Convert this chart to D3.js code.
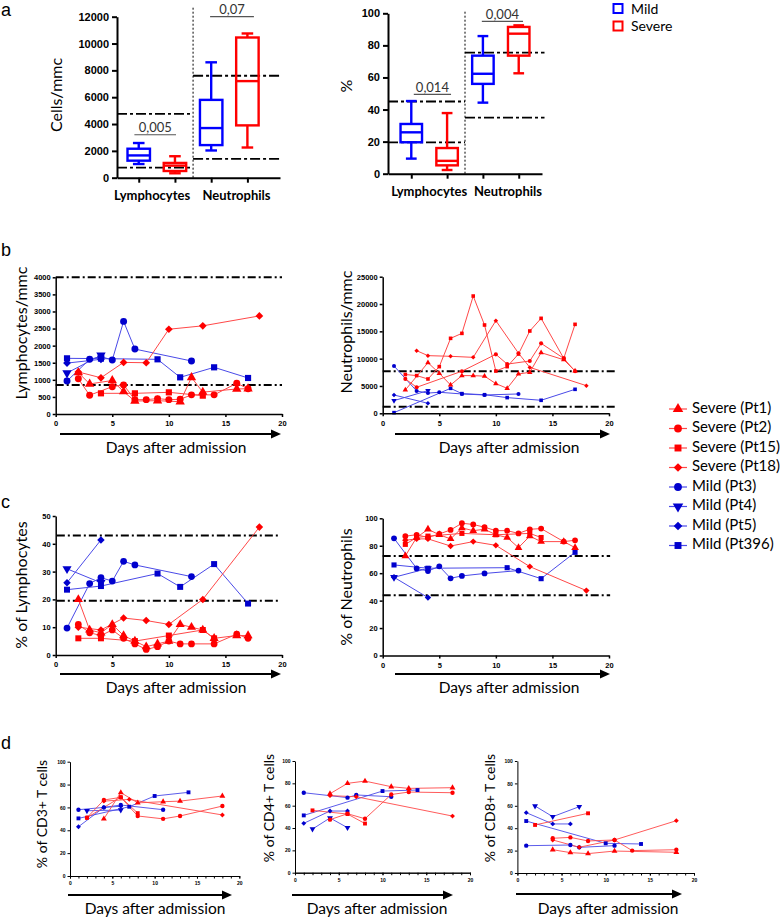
<!DOCTYPE html>
<html><head><meta charset="utf-8">
<script src="https://cdn.jsdelivr.net/npm/d3@7/dist/d3.min.js"></script>
<style>body{margin:0;background:#fff}</style>
</head><body>
<script>
// ================= DATA =================
const boxCategories = ["Lymphocytes", "Neutrophils"];
const boxGroups = ["Mild", "Severe"];
// [min, q1, median, q3, max] per category
const countMild   = [[1020, 1270, 1660, 2160, 2585], [2030, 2430, 3700, 5800, 8600]];
const countSevere = [[330, 500, 900, 1100, 1600],   [2250, 3900, 7200, 10450, 10750]];
const pctMild     = [[9.4, 19.6, 25.8, 31, 45.3],   [44.3, 56, 62.3, 73.6, 85.8]];
const pctSevere   = [[2.3, 5.2, 8, 16, 37.8],       [62.6, 73.6, 87.3, 91.5, 92.5]];
const countRefRanges = [[750, 4750], [1400, 7600]];
const pctRefRanges   = [[19.5, 45], [35, 75.5]];
const countPValues = ["0,005", "0,07"];
const pctPValues   = ["0,014", "0,004"];
const countBracketValue = [3200, 12000];
const pctBracketValue   = [49.5, 95];
const countTicks = [0, 2000, 4000, 6000, 8000, 10000, 12000];
const pctTicks   = [0, 20, 40, 60, 80, 100];

const patients = ["Severe (Pt1)", "Severe (Pt2)", "Severe (Pt15)", "Severe (Pt18)",
                  "Mild (Pt3)", "Mild (Pt4)", "Mild (Pt5)", "Mild (Pt396)"];
const patientGroup  = ["Severe", "Severe", "Severe", "Severe", "Mild", "Mild", "Mild", "Mild"];
const patientSymbol = ["triangle", "circle", "square", "diamond", "circle", "triangleDown", "diamond", "square"];
const dayTicks = [0, 5, 10, 15, 20];

// [day, value] per patient (order as in `patients`)
const lymphCount = [
  [[2,1210],[3,880],[5,980],[6,654],[7,380],[9,390],[11,360],[12,1070],[13,640],[16,732],[17,740]],
  [[2,1030],[3,550],[5,800],[6,850],[7,420],[8,420],[9,450],[10,420],[11,430],[12,560],[14,560],[16,900],[17,740]],
  [[4,605],[7,605],[10,634],[13,537]],
  [[2,1230],[4,1060],[6,1510],[8,1500],[10,2480],[13,2580],[18,2870]],
  [[1,966],[3,1600],[4,1680],[5,1580],[6,2710],[7,1900],[12,1551]],
  [[1,1200],[4,1720]],
  [[1,1490],[4,1600]],
  [[1,1629],[4,1620],[9,1600],[11,1073],[14,1366],[17,1054]]
];
const neutCount = [
  [[2,4270],[4,9270],[5,7320],[6,5180],[7,6900],[8,6890],[9,6800],[10,5430],[11,4570],[12,7200],[13,7500],[14,11100],[16,9800],[17,7740]],
  [[2,6300],[3,4760],[7,7700],[10,10790],[11,9000],[13,9570],[14,12800],[16,10060],[17,7700]],
  [[2,7100],[3,6900],[4,6280],[5,8540],[6,13720],[7,14630],[8,21460],[9,16160],[10,7740],[11,8540],[12,10850],[13,15060],[14,17380],[16,10060],[17,16280]],
  [[3,11460],[4,10550],[6,10430],[8,10240],[10,16950],[12,11000],[13,8400],[18,5060]],
  [[1,8660],[3,4085],[4,3700],[5,3850],[7,3540],[9,3350],[12,3540]],
  [[1,2320],[4,4150]],
  [[1,3350],[4,1830]],
  [[1,120],[6,4570],[7,3600],[9,3400],[11,2870],[14,2380],[17,4390]]
];
const lymphPct = [
  [[2,20],[3,9],[4,8],[5,11],[6,7],[7,5],[8,3],[9,4],[10,5],[11,11],[12,10],[13,9],[14,6],[16,7],[17,7]],
  [[2,11],[3,8],[4,7],[5,9],[6,6],[7,4],[8,2],[9,3],[10,5],[11,4],[12,4],[14,4],[16,7.5],[17,6]],
  [[2,6],[4,6],[7,5],[10,7],[13,9],[14,6]],
  [[2,10],[4,9],[6,13.3],[8,12.4],[10,11],[13,20],[18,46]],
  [[1,9.7],[3,25.7],[4,27.8],[5,26.6],[6,33.7],[7,32.4],[12,28.2]],
  [[1,31],[4,26]],
  [[1,26],[4,41.4]],
  [[1,23.5],[4,24.8],[9,29.3],[11,24.5],[14,32.7],[17,18.5]]
];
const neutPct = [
  [[2,72.6],[3,86],[4,92],[5,88],[6,85],[7,93],[8,91],[9,92],[10,88],[11,86],[12,78.6],[13,87],[14,83],[16,83],[17,78.6]],
  [[2,87],[3,88],[4,86],[5,88.6],[6,91.5],[7,96.4],[8,95.5],[9,93.5],[10,91],[11,91],[12,89],[13,92],[14,92.5],[16,83],[17,84]],
  [[2,81],[3,86],[4,87],[7,89],[10,88],[13,89],[14,86]],
  [[2,84],[3,85],[4,85],[6,79.8],[8,83],[10,80.3],[13,64.8],[18,47.3]],
  [[1,85.4],[3,63.5],[4,61.5],[5,65],[6,56.3],[7,58],[9,59.8],[12,61.9]],
  [[1,57],[4,63.5]],
  [[1,57],[4,42.2]],
  [[1,66],[4,63.6],[11,64],[14,56],[17,75.2]]
];
const cd3Pct = [
  [[4,50],[6,73],[8,64],[11,65],[13,65.5],[18,70]],
  [[2,51],[4,66.5],[6,68.8],[8,52.5],[11,50],[13,52.5],[18,61.2]],
  [[2,51],[6,69],[8,55]],
  [[4,65.5],[7,67],[18,53.4]],
  [[1,58],[4,60],[6,62.1],[11,58]],
  [[2,57.1],[6,57.7]],
  [[1,43.1],[4,60],[6,61]],
  [[1,50.4],[7,60.6],[10,70],[14,73.2]]
];
const cd4Pct = [
  [[4,70.7],[6,80],[8,82],[11,77],[13,75.5],[18,76.1]],
  [[4,47.5],[6,52.8],[8,48.3],[11,70],[13,72.2],[18,71.6]],
  [[2,55.8],[6,52.5],[8,44]],
  [[4,69],[7,68],[18,50.7]],
  [[1,71.6],[6,67.2],[7,69.6],[11,68]],
  [[2,39.1],[4,49],[6,40.3]],
  [[1,44.2],[4,55.2],[6,55.2]],
  [[1,51.3],[10,73.1],[14,74]]
];
const cd8Pct = [
  [[4,20.8],[6,18.2],[8,17.3],[11,19.6],[18,18.5]],
  [[4,31],[6,31.8],[8,28.6],[11,29.5],[13,20],[18,20.8]],
  [[2,42.9],[8,53.3]],
  [[4,29.5],[7,23],[11,29.5],[18,46.7]],
  [[1,24.4],[6,25],[7,22.9],[11,24.4]],
  [[2,59.8],[4,50.3],[7,59.2]],
  [[1,53.9],[4,43.8],[6,43.8]],
  [[1,46.4],[10,26.5],[14,25.9]]
];
const lymphCountRefs = [850, 4000];
const neutCountRefs  = [1200, 7700];
const lymphPctRefs   = [19.5, 43];
const neutPctRefs    = [44, 72.5];

// ================= STYLE =================
const LABEL_FONT = "Lato, 'Open Sans', sans-serif";
const TICK_FONT = "'Liberation Sans', Arial, sans-serif";
const boxColor = {Mild: "#0000ff", Severe: "#ff0000"};
const markColor = {Mild: "#0000cd", Severe: "#ff0000"};
const lineColor = {Mild: "#4a4ae8", Severe: "#ff4848"};
const symMap = {triangle: d3.symbolTriangle, triangleDown: d3.symbolTriangle, circle: d3.symbolCircle,
                square: d3.symbolSquare, diamond: d3.symbolDiamond2};

const svg = d3.select("body").append("svg").attr("width", 780).attr("height", 917)
  .style("background", "#fff").style("display", "block");

// panel letters
[["a", 1, 16], ["b", 1, 256], ["c", 1, 508], ["d", 1, 749]].forEach(([t, x, y]) =>
  svg.append("text").attr("x", x).attr("y", y).text(t)
    .attr("font-family", TICK_FONT).attr("font-size", 18).attr("fill", "#000"));

function styleAxis(sel, width, fontSize, bold) {
  sel.select(".domain").attr("stroke", "#000").attr("stroke-width", width);
  sel.selectAll(".tick line").attr("stroke", "#000").attr("stroke-width", width);
  sel.selectAll(".tick text").attr("font-family", TICK_FONT).attr("font-size", fontSize)
    .attr("font-weight", bold ? "bold" : "normal").attr("fill", "#000");
}

// ================= PANEL A (box plots) =================
function drawBox(cfg) {
  const g = svg.append("g");
  const x = d3.scaleLinear().domain(cfg.xDomain).range(cfg.xRange);
  const y = d3.scaleLinear().domain([0, cfg.yMax]).range(cfg.yRange);
  const unit = x(1) - x(0);
  const divX = x(1.5);
  cfg.refs.forEach((pair, c) => {
    const xa = c === 0 ? x(cfg.xDomain[0]) : divX;
    const xb = c === 0 ? divX : x(cfg.refEnd);
    pair.forEach(v => g.append("line").attr("x1", xa).attr("x2", xb).attr("y1", y(v)).attr("y2", y(v))
      .attr("stroke", "#000").attr("stroke-width", 1.8).attr("stroke-dasharray", "10,3,3,3"));
  });
  g.append("line").attr("x1", divX).attr("x2", divX).attr("y1", y(0)).attr("y2", y(cfg.divTop))
    .attr("stroke", "#000").attr("stroke-width", 1).attr("stroke-dasharray", "2,2");
  [cfg.mild, cfg.severe].forEach((stats, gi) => {
    const col = boxColor[boxGroups[gi]];
    stats.forEach((s, c) => {
      const cx = x(c * 2 + gi), hw = cfg.boxHalf * unit, cw = cfg.capHalf * unit;
      const bg = g.append("g").attr("stroke", col).attr("stroke-width", 2.4).attr("fill", "none");
      bg.append("line").attr("x1", cx).attr("x2", cx).attr("y1", y(s[0])).attr("y2", y(s[1]));
      bg.append("line").attr("x1", cx).attr("x2", cx).attr("y1", y(s[3])).attr("y2", y(s[4]));
      bg.append("line").attr("x1", cx - cw).attr("x2", cx + cw).attr("y1", y(s[0])).attr("y2", y(s[0]));
      bg.append("line").attr("x1", cx - cw).attr("x2", cx + cw).attr("y1", y(s[4])).attr("y2", y(s[4]));
      bg.append("rect").attr("x", cx - hw).attr("y", y(s[3])).attr("width", 2 * hw).attr("height", y(s[1]) - y(s[3]));
      bg.append("line").attr("x1", cx - hw).attr("x2", cx + hw).attr("y1", y(s[2])).attr("y2", y(s[2]));
    });
  });
  const ya = g.append("g").attr("transform", `translate(${x(cfg.xDomain[0])},0)`)
    .call(d3.axisLeft(y).tickValues(cfg.ticks).tickSize(5).tickPadding(3).tickSizeOuter(0).tickFormat(d3.format("d")));
  styleAxis(ya, 2, 11, true);
  const xa = g.append("g").attr("transform", `translate(0,${y(0)})`)
    .call(d3.axisBottom(x).tickValues([0, 1, 2, 3]).tickFormat("").tickSize(5).tickSizeOuter(0));
  styleAxis(xa, 2, 11, true);
  boxCategories.forEach((c, i) => g.append("text").attr("x", x(cfg.catPos[i])).attr("y", y(0) + 22.5)
    .attr("text-anchor", "middle").attr("font-family", LABEL_FONT).attr("font-weight", "bold")
    .attr("font-size", 13).text(c));
  cfg.pvals.forEach((p, c) => {
    const xa1 = x(cfg.brX[c][0]), xb1 = x(cfg.brX[c][1]), by = y(cfg.brY[c]);
    g.append("line").attr("x1", xa1).attr("x2", xb1).attr("y1", by).attr("y2", by)
      .attr("stroke", "#555").attr("stroke-width", 1.2);
    g.append("text").attr("x", (xa1 + xb1) / 2).attr("y", by - 2.5).attr("text-anchor", "middle")
      .attr("font-family", LABEL_FONT).attr("font-size", 13).attr("fill", "#333").text(p);
  });
  g.append("text").attr("transform", `translate(${cfg.labX},${cfg.labY}) rotate(-90)`)
    .attr("text-anchor", "middle").attr("dominant-baseline", "middle")
    .attr("font-family", LABEL_FONT).attr("font-size", 16).text(cfg.ylabel);
}

drawBox({xDomain: [-0.6, 3.9], xRange: [117, 280], refEnd: 3.9, yMax: 12000, yRange: [177.7, 16.7],
  ticks: countTicks, mild: countMild, severe: countSevere, refs: countRefRanges, divTop: 12720,
  boxHalf: 0.31, capHalf: 0.16, catPos: [0.37, 2.7], pvals: countPValues,
  brX: [[-0.12, 1.03], [1.97, 3.18]], brY: countBracketValue, labX: 58, labY: 95, ylabel: "Cells/mmc"});

drawBox({xDomain: [-0.65, 3.65], xRange: [388, 542], refEnd: 3.72, yMax: 100, yRange: [173.7, 13.3],
  ticks: pctTicks, mild: pctMild, severe: pctSevere, refs: pctRefRanges, divTop: 101.2,
  boxHalf: 0.3, capHalf: 0.15, catPos: [0.5, 2.7], pvals: pctPValues,
  brX: [[0.07, 1.11], [1.97, 3.12]], brY: pctBracketValue, labX: 348, labY: 86, ylabel: "%"});

// legend a
boxGroups.forEach((grp, i) => {
  const yy = 8.5 + i * 17.5;
  svg.append("rect").attr("x", 613.5).attr("y", yy - 4.5).attr("width", 9).attr("height", 9)
    .attr("fill", "none").attr("stroke", boxColor[grp]).attr("stroke-width", 2);
  svg.append("text").attr("x", 631).attr("y", yy + 5).attr("font-family", LABEL_FONT)
    .attr("font-size", 14).text(grp);
});

// ================= LINE PANELS =================
function markerPath(name, size) { return d3.symbol(symMap[name], size)(); }
function markerRot(name) { return name === "triangleDown" ? " rotate(180)" : ""; }

function drawLine(cfg, series, refs) {
  const g = svg.append("g");
  const x = d3.scaleLinear().domain([0, 20]).range(cfg.xRange);
  const y = d3.scaleLinear().domain([0, cfg.yMax]).range(cfg.yRange);
  refs.forEach(v => g.append("line").attr("x1", x(cfg.refX[0])).attr("x2", x(cfg.refX[1]))
    .attr("y1", y(v)).attr("y2", y(v)).attr("stroke", "#000").attr("stroke-width", 2)
    .attr("stroke-dasharray", "8,3,2,3"));
  const order = d3.range(series.length).reverse();
  const line = d3.line().x(d => x(d[0])).y(d => y(d[1]));
  order.forEach(i => g.append("path").datum(series[i]).attr("d", line).attr("fill", "none")
    .attr("stroke", lineColor[patientGroup[i]]).attr("stroke-width", cfg.lw));
  order.forEach(i => g.append("g").selectAll("path").data(series[i]).join("path")
    .attr("transform", d => `translate(${x(d[0])},${y(d[1])})${markerRot(patientSymbol[i])}`)
    .attr("d", markerPath(patientSymbol[i], cfg.ms)).attr("fill", markColor[patientGroup[i]]));
  const ya = g.append("g").attr("transform", `translate(${cfg.xRange[0]},0)`)
    .call(d3.axisLeft(y).tickValues(d3.range(0, cfg.yMax + 1e-9, cfg.yStep)).tickSize(cfg.tick)
      .tickPadding(2).tickSizeOuter(0).tickFormat(d3.format("d")));
  styleAxis(ya, cfg.aw, cfg.fs, true);
  if (cfg.minor) {
    const xm = g.append("g").attr("transform", `translate(0,${cfg.yRange[0]})`)
      .call(d3.axisBottom(x).tickValues(d3.range(0, 21)).tickSize(2.5).tickFormat("").tickSizeOuter(0));
    styleAxis(xm, cfg.aw, cfg.fs, true);
  }
  const xa = g.append("g").attr("transform", `translate(0,${cfg.yRange[0]})`)
    .call(d3.axisBottom(x).tickValues(dayTicks).tickSize(cfg.tick).tickPadding(cfg.xPad).tickSizeOuter(0));
  styleAxis(xa, cfg.aw, cfg.fs, true);
  g.append("text").attr("transform", `translate(${cfg.labX},${cfg.labY}) rotate(-90)`)
    .attr("text-anchor", "middle").attr("dominant-baseline", "middle")
    .attr("font-family", LABEL_FONT).attr("font-size", cfg.labFs).text(cfg.ylabel);
  const [ax1, ax2] = cfg.arrow, ay = cfg.arrowY;
  g.append("line").attr("x1", ax1).attr("x2", ax2 - 6).attr("y1", ay).attr("y2", ay)
    .attr("stroke", "#000").attr("stroke-width", 2);
  g.append("path").attr("d", `M${ax2},${ay}L${ax2 - 10},${ay - 4.5}L${ax2 - 10},${ay + 4.5}Z`).attr("fill", "#000");
  g.append("text").attr("x", cfg.textX).attr("y", cfg.textY).attr("text-anchor", "middle")
    .attr("font-family", LABEL_FONT).attr("font-size", 15.5).text("Days after admission");
}

const bcBase = {lw: 1, aw: 1.5, fs: 7.5, tick: 3, xPad: 4, labFs: 16};
drawLine({...bcBase, xRange: [55.7, 282], yRange: [414, 277.3], yMax: 4000, yStep: 500, refX: [0, 20], ms: 38,
  labX: 23, labY: 333, ylabel: "Lymphocytes/mmc", arrow: [60, 281], arrowY: 434, textX: 176, textY: 453}, lymphCount, lymphCountRefs);
drawLine({...bcBase, xRange: [382.7, 609], yRange: [413.3, 276.7], yMax: 25000, yStep: 5000, refX: [0, 20.7], ms: 13,
  labX: 348, labY: 332, ylabel: "Neutrophils/mmc", arrow: [395, 610], arrowY: 434, textX: 509, textY: 453}, neutCount, neutCountRefs);
drawLine({...bcBase, xRange: [55.7, 282], yRange: [655, 516], yMax: 50, yStep: 10, refX: [0.1, 19.8], ms: 36,
  labX: 23, labY: 585, ylabel: "% of Lymphocytes", arrow: [60, 281], arrowY: 674, textX: 176, textY: 693}, lymphPct, lymphPctRefs);
drawLine({...bcBase, xRange: [382.7, 609], yRange: [655.5, 518.3], yMax: 100, yStep: 20, refX: [0, 20.1], ms: 26,
  labX: 348, labY: 587, ylabel: "% of Neutrophils", arrow: [395, 610], arrowY: 674, textX: 509, textY: 693}, neutPct, neutPctRefs);

const dBase = {lw: 0.9, aw: 1, fs: 5, tick: 2.5, xPad: 3, labFs: 14, ms: 15, minor: true, yMax: 100, yStep: 20, refX: [0, 0]};
drawLine({...dBase, xRange: [70, 239.3], yRange: [876, 761.7], labX: 43, labY: 814, ylabel: "% of CD3+ T cells",
  arrow: [68, 232], arrowY: 895, textX: 155, textY: 914}, cd3Pct, []);
drawLine({...dBase, xRange: [295, 470], yRange: [872.7, 761], labX: 270, labY: 808, ylabel: "% of CD4+ T cells",
  arrow: [292, 453], arrowY: 895, textX: 377, textY: 914}, cd4Pct, []);
drawLine({...dBase, xRange: [517.4, 694], yRange: [873, 761], labX: 491, labY: 808, ylabel: "% of CD8+ T cells",
  arrow: [516, 682], arrowY: 894, textX: 608, textY: 914}, cd8Pct, []);

// legend (b/c)
patients.forEach((p, i) => {
  const yy = 409 + i * 19.5, grp = patientGroup[i];
  svg.append("line").attr("x1", 669).attr("x2", 687).attr("y1", yy).attr("y2", yy)
    .attr("stroke", lineColor[grp]).attr("stroke-width", 1.2);
  svg.append("path").attr("transform", `translate(678,${yy})${markerRot(patientSymbol[i])}`)
    .attr("d", markerPath(patientSymbol[i], 48)).attr("fill", markColor[grp]);
  svg.append("text").attr("x", 692).attr("y", yy).attr("dominant-baseline", "middle")
    .attr("font-family", LABEL_FONT).attr("font-size", 15).text(p);
});
</script>
</body></html>
